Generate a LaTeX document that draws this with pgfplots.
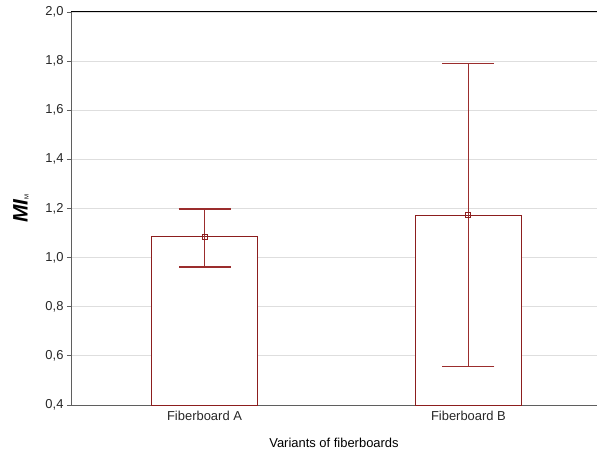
\documentclass[border=0pt]{standalone}
\usepackage{pgfplots}
\pgfplotsset{compat=1.18}
\usepackage{fontspec}
\setmainfont{Liberation Sans}
\definecolor{barred}{RGB}{140,30,30}
\definecolor{errred}{RGB}{155,45,45}
\definecolor{axgray}{RGB}{95,95,95}
\definecolor{gridgray}{RGB}{222,222,222}
\begin{document}
\begin{tikzpicture}[x=1bp,y=1bp]
\begin{axis}[
  at={(0,0)}, anchor=south west,
  scale only axis,
  width=526bp, height=393bp,
  xmin=-0.5059, xmax=1.4871,
  ymin=0.4, ymax=2.0,
  axis y line*=left,
  xtick pos=bottom,
  xtick={0,1}, xticklabels={Fiberboard A, Fiberboard B},
  ytick={0.4,0.6,...,2.0},
  /pgf/number format/.cd, fixed, fixed zerofill, precision=1, use comma, assume math mode=true,
  /pgfplots/.cd,
  ymajorgrids, grid style={gridgray, line width=0.8pt},
  axis line style={axgray, line width=1pt},
  tick style={axgray, line width=0.8pt},
  ytick align=outside, xtick align=inside,
  major tick length=4bp,
  tick label style={font=\fontsize{13}{15}\selectfont, text=black!85},
  xticklabel style={yshift=-3bp},
  xlabel={Variants of fiberboards},
  xlabel style={font=\fontsize{13}{15}\selectfont, yshift=-10bp},
  ylabel={\textbf{\textit{MI}}\raisebox{-1bp}{\fontsize{6}{7}\selectfont M}},
  ylabel style={font=\fontsize{21}{24}\selectfont, yshift=10bp},
  clip=true,
]
\addplot[ybar, bar width=0.405, fill=white, draw=barred, line width=1pt]
  coordinates {(0,1.084) (1,1.173)};
\addplot[only marks, mark=square, mark size=2.5bp, draw=barred, line width=0.9pt,
  error bars/.cd, y dir=both, y explicit,
  error bar style={draw=errred, line width=1pt},
  error mark options={rotate=90, mark size=26bp, line width=1.1pt, draw=errred}]
  coordinates {(0,1.084) += (0,0.114) -= (0,0.122)
               (1,1.173) += (0,0.619) -= (0,0.618)};
\draw[black, line width=1pt] (rel axis cs:0,1) -- (rel axis cs:1,1);
\end{axis}
\pgfresetboundingbox
\path (-71bp,-47bp) rectangle (526bp,405bp);
\end{tikzpicture}
\end{document}
